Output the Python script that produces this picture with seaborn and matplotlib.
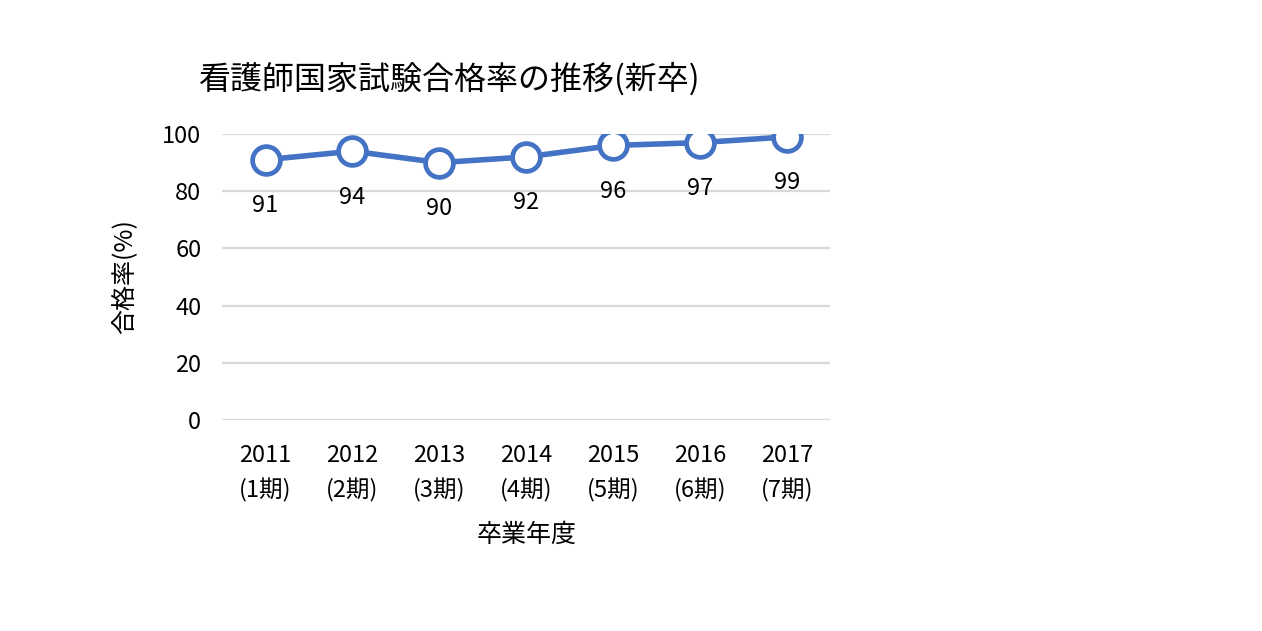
import matplotlib
matplotlib.use("Agg")
import matplotlib.pyplot as plt
import seaborn as sns
import pandas as pd

years = ["2011", "2012", "2013", "2014", "2015", "2016", "2017"]
terms = ["(1期)", "(2期)", "(3期)", "(4期)", "(5期)", "(6期)", "(7期)"]
rates = [91, 94, 90, 92, 96, 97, 99]
yticks = [0, 20, 40, 60, 80, 100]

title = "看護師国家試験合格率の推移(新卒)"
xlabel = "卒業年度"
ylabel = "合格率(%)"

sns.set_theme(style="white")
plt.rcParams["font.family"] = ["Noto Sans CJK JP", "DejaVu Sans"]
plt.rcParams["text.color"] = "black"
plt.rcParams["axes.labelcolor"] = "black"
plt.rcParams["xtick.color"] = "black"
plt.rcParams["ytick.color"] = "black"

labels = [f"{y}\n{t}" for y, t in zip(years, terms)]
df = pd.DataFrame({"label": labels, "rate": rates, "pos": range(len(labels))})

fig = plt.figure(figsize=(12.62, 6.31), dpi=100)
ax = fig.add_axes([0.176, 0.3344, 0.482, 0.4532])

blue = "#4472C4"
sns.lineplot(data=df, x="pos", y="rate", ax=ax, color=blue, linewidth=4,
             marker="o", markersize=20, markerfacecolor="white",
             markeredgecolor=blue, markeredgewidth=3.4, zorder=3)

for i, v in enumerate(rates):
    ax.annotate(str(v), (i, v), xytext=(0, -33), textcoords="offset points",
                ha="center", va="center", fontsize=17, color="black")

ax.set_xlim(-0.5, len(labels) - 0.5)
ax.set_ylim(0, 100)
ax.set_yticks(yticks)
ax.set_yticklabels([str(t) for t in yticks], fontsize=17)
ax.set_xticks(range(len(labels)))
ax.set_xticklabels(labels, fontsize=17, linespacing=1.6)
ax.tick_params(axis="both", length=0)
ax.tick_params(axis="y", pad=15)
ax.tick_params(axis="x", pad=17)
ax.yaxis.grid(True, color="#D9D9D9", linewidth=1.6)
ax.set_axisbelow(True)
for s in ax.spines.values():
    s.set_visible(False)

ax.set_xlabel(xlabel, fontsize=18, labelpad=14)
ax.set_ylabel(ylabel, fontsize=18, labelpad=18)
fig.text(0.158, 0.875, title, fontsize=23, ha="left", va="center")

fig.savefig("out.png", dpi=100, facecolor="white")
